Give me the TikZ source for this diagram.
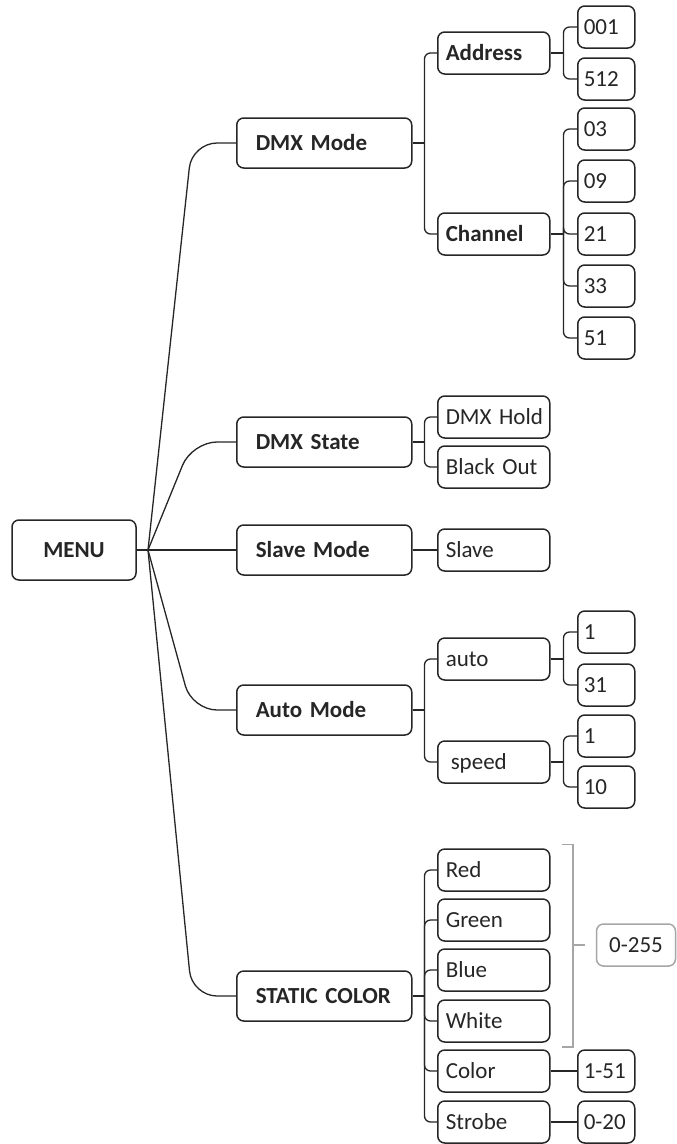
\documentclass[tikz,border=0pt]{standalone}
\usepackage{fontspec}
\setmainfont{Carlito}
\definecolor{ln}{HTML}{262626}
\definecolor{txt}{HTML}{262626}
\definecolor{brk}{HTML}{A6A6A6}
\begin{document}
\begin{tikzpicture}[x=1pt,y=-1pt,
        box/.style={draw=ln, line width=1.5pt, rounded corners=7pt, align=left, inner ysep=0pt,
          text=txt, font=\fontsize{23}{26}\selectfont, text height=15pt, text depth=0pt},
        lvlone/.style={box, anchor=west, text width=137pt, inner xsep=19pt, minimum height=50pt,
          font=\fontsize{23}{26}\selectfont\bfseries},
        lvltwo/.style={box, anchor=west, text width=96pt, inner xsep=8pt, minimum height=42pt},
        lvlthree/.style={box, anchor=west, text width=45pt, inner xsep=6pt, minimum height=42pt},
        link/.style={draw=ln, line width=1.3pt},
        fork/.style={link, rounded corners=6pt}]
        \useasboundingbox (0,0) rectangle (677,1144);
        % root
        \node [box, align=center, minimum width=124pt, minimum height=60pt,
          font=\fontsize{23}{26}\selectfont\bfseries] (menu) at (74,550) {MENU};
        \coordinate (mj) at (148,550);
        \draw [link, line width=2.2pt] (menu.east) -- (mj);
        % first level
        \node [lvlone] (dmx) at (236,143) {DMX Mode};
        \node [lvlone] (state) at (236,442) {DMX State};
        \node [lvlone] (slavem) at (236,550) {Slave Mode};
        \node [lvlone] (automode) at (236,710) {Auto Mode};
        \node [lvlone] (static) at (236,996) {STATIC COLOR};
        \foreach \n in {dmx,state,automode,static}
          \draw [link, rounded corners=25pt] (mj) -- ([xshift=-44pt]\n.west) -- (\n.west);
        \draw [link] (mj) -- (slavem.west);
        % DMX Mode
        \node [lvltwo] (addr) at (437,53) {\textbf{Address}};
        \node [lvltwo] (chan) at (437,234) {\textbf{Channel}};
        \coordinate (dmxj) at ([xshift=12pt]dmx.east);
        \draw [link] (dmx.east) -- (dmxj);
        \draw [fork] (dmxj) |- (addr.west);
        \draw [fork] (dmxj) |- (chan.west);
        \node [lvlthree] (a001) at (577,27) {001};
        \node [lvlthree] (a512) at (577,79) {512};
        \coordinate (addrj) at ([xshift=13pt]addr.east);
        \draw [link] (addr.east) -- (addrj);
        \draw [fork] (addrj) |- (a001.west);
        \draw [fork] (addrj) |- (a512.west);
        \node [lvlthree] (c03) at (577,129) {03};
        \node [lvlthree] (c09) at (577,181) {09};
        \node [lvlthree] (c21) at (577,234) {21};
        \node [lvlthree] (c33) at (577,286) {33};
        \node [lvlthree] (c51) at (577,338) {51};
        \coordinate (chanj) at ([xshift=13pt]chan.east);
        \draw [link] (chan.east) -- (chanj);
        \foreach \n in {c03,c09,c21,c33,c51}
          \draw [fork] (chanj) |- (\n.west);
        % DMX State
        \node [lvltwo] (hold) at (437,417) {\mbox{DMX Hold}};
        \node [lvltwo] (black) at (437,467) {\mbox{Black Out}};
        \coordinate (statej) at ([xshift=12pt]state.east);
        \draw [link] (state.east) -- (statej);
        \draw [fork] (statej) |- (hold.west);
        \draw [fork] (statej) |- (black.west);
        % Slave Mode
        \node [lvltwo] (slave) at (437,550) {Slave};
        \draw [link] (slavem.east) -- (slave.west);
        % Auto Mode
        \node [lvltwo] (auto) at (437,659) {auto};
        \node [lvltwo] (speed) at (437,762) {\hspace{5pt}speed};
        \coordinate (autoj) at ([xshift=12pt]automode.east);
        \draw [link] (automode.east) -- (autoj);
        \draw [fork] (autoj) |- (auto.west);
        \draw [fork] (autoj) |- (speed.west);
        \node [lvlthree] (u1) at (577,632) {1};
        \node [lvlthree] (u31) at (577,685) {31};
        \coordinate (auj) at ([xshift=13pt]auto.east);
        \draw [link] (auto.east) -- (auj);
        \draw [fork] (auj) |- (u1.west);
        \draw [fork] (auj) |- (u31.west);
        \node [lvlthree] (s1) at (577,736) {1};
        \node [lvlthree] (s10) at (577,787) {10};
        \coordinate (spj) at ([xshift=13pt]speed.east);
        \draw [link] (speed.east) -- (spj);
        \draw [fork] (spj) |- (s1.west);
        \draw [fork] (spj) |- (s10.west);
        % STATIC COLOR
        \node [lvltwo] (red) at (437,870) {Red};
        \node [lvltwo] (green) at (437,920) {Green};
        \node [lvltwo] (blue) at (437,970) {Blue};
        \node [lvltwo] (white) at (437,1021) {White};
        \node [lvltwo] (color) at (437,1071) {Color};
        \node [lvltwo] (strobe) at (437,1122) {Strobe};
        \coordinate (statj) at ([xshift=12pt]static.east);
        \draw [link] (static.east) -- (statj);
        \foreach \n in {red,green,blue,white,color,strobe}
          \draw [fork] (statj) |- (\n.west);
        \node [lvlthree] (c151) at (577,1071) {1-51};
        \node [lvlthree] (s020) at (577,1122) {0-20};
        \draw [link] (color.east) -- (c151.west);
        \draw [link] (strobe.east) -- (s020.west);
        % shared range
        \node [box, draw=brk, align=center, minimum width=79pt, minimum height=42pt] (rng) at (636,945) {0-255};
        \draw [brk, line width=1.5pt] ([shift={(11pt,4pt)}]red.north east) -| (573,945)
          |- ([shift={(11pt,-4pt)}]white.south east);
        \draw [brk, line width=1.5pt] (573,945) -- ([xshift=-11pt]rng.west);
\end{tikzpicture}
\end{document}
